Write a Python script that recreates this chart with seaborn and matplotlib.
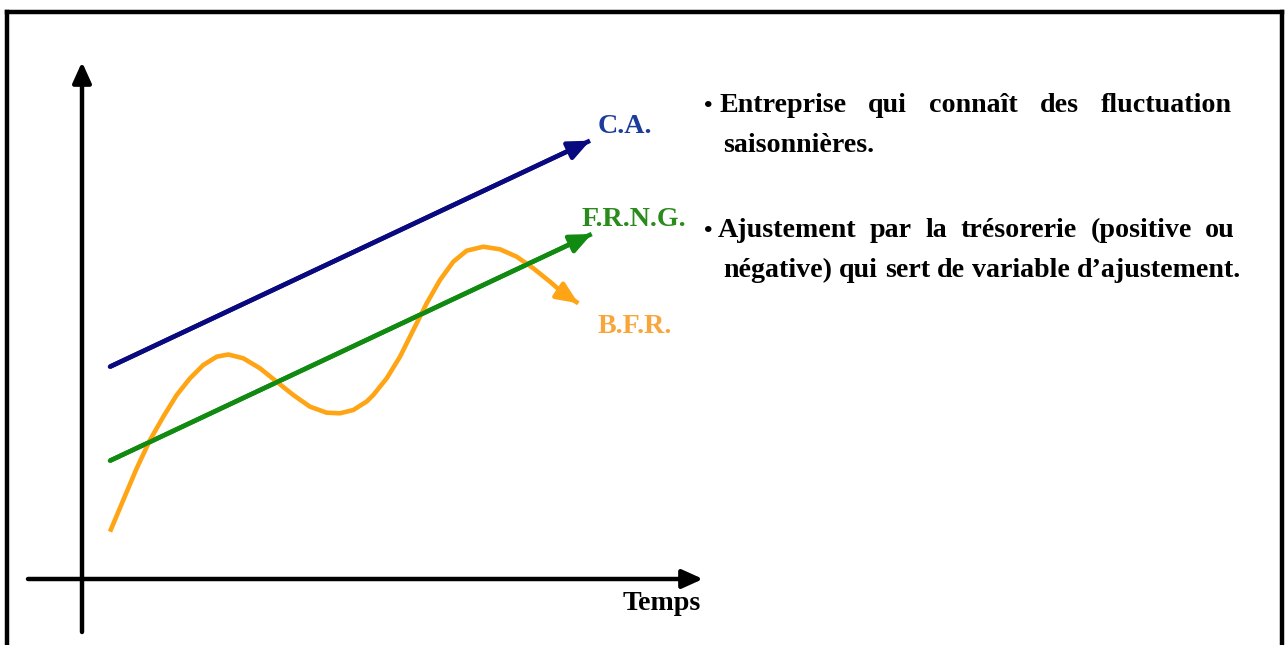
import matplotlib
matplotlib.use("Agg")
import matplotlib.pyplot as plt
import seaborn as sns
from matplotlib.lines import Line2D

# ---------------- data (chart units: time along x, value along y) ----------------
ca_t = [2.80, 50.80]
ca_v = [21.23, 43.83]

frng_t = [2.80, 50.97]
frng_v = [11.83, 34.50]

bfr_t = [2.80, 4.13, 5.47, 6.80, 8.13, 9.47, 10.80, 12.13, 13.47, 14.63, 16.13,
         17.80, 19.47, 21.13, 22.80, 24.47, 25.80, 27.13, 28.47, 29.13, 30.47,
         31.80, 33.13, 34.47, 35.80, 37.13, 38.47, 40.13, 41.80, 43.47, 45.13,
         46.80, 48.13, 49.63]
bfr_v = [4.73, 7.90, 11.07, 13.90, 16.23, 18.40, 20.07, 21.40, 22.23, 22.45, 22.07,
         21.07, 19.73, 18.40, 17.23, 16.63, 16.57, 16.90, 17.75, 18.40, 20.07,
         22.23, 24.90, 27.57, 29.90, 31.73, 32.83, 33.23, 32.97, 32.23, 31.07,
         29.73, 28.57, 27.57]

series_labels = ["C.A.", "F.R.N.G.", "B.F.R."]
x_axis_label = "Temps"
bullet_1 = ["Entreprise", "qui", "connaît", "des", "fluctuation"]
bullet_1b = ["saisonnières."]
bullet_2 = ["Ajustement", "par", "la", "trésorerie", "(positive", "ou"]
bullet_2b = ["négative)", "qui", "sert", "de", "variable", "d’ajustement."]

# ---------------- style ----------------
sns.set_style("white")
plt.rcParams["font.family"] = ["Liberation Serif", "DejaVu Serif"]
plt.rcParams["font.weight"] = "bold"

NAVY = "#0a0a80"
GREEN = "#108a10"
ORANGE = "#ffa515"
CA_TXT = "#1c3c9c"
FR_TXT = "#2a8a1c"
BF_TXT = "#f8a53a"
FS = 20.2

fig = plt.figure(figsize=(12.85, 6.45), dpi=100)
fig.patch.set_facecolor("white")
ax = fig.add_axes([0, 0, 1, 1])
ax.set_xlim(-8.2, 120.3)
ax.set_ylim(-6.6, 57.9)
ax.axis("off")


def X(px):
    return px / 10 - 8.2


def Y(py):
    return (579 - py) / 10


# ---------------- frame (top, left, right) ----------------
fw = 3.2
fig.add_artist(Line2D([6.5 / 1285, 1281.5 / 1285], [1 - 11.5 / 645] * 2,
                      transform=fig.transFigure, color="black", lw=fw,
                      solid_capstyle="projecting"))
fig.add_artist(Line2D([6.5 / 1285] * 2, [1 - 11.5 / 645, -0.05],
                      transform=fig.transFigure, color="black", lw=fw,
                      solid_capstyle="projecting"))
fig.add_artist(Line2D([1281.5 / 1285] * 2, [1 - 11.5 / 645, -0.05],
                      transform=fig.transFigure, color="black", lw=fw,
                      solid_capstyle="projecting"))

# ---------------- axes arrows ----------------
axis_arrow = dict(arrowstyle="-|>,head_length=0.62,head_width=0.28", color="black",
                  lw=3.2, shrinkA=0, shrinkB=0, mutation_scale=20)
ax.annotate("", xy=(0, Y(62)), xytext=(0, Y(632)), arrowprops=axis_arrow)
ax.annotate("", xy=(X(703), 0), xytext=(X(28), 0), arrowprops=axis_arrow)

# ---------------- series ----------------
for t, v, col in [(ca_t, ca_v, NAVY), (frng_t, frng_v, GREEN), (bfr_t, bfr_v, ORANGE)]:
    sns.lineplot(x=t, y=v, ax=ax, color=col, lw=3.3, estimator=None, sort=False,
                 solid_capstyle="butt", solid_joinstyle="round")
    ax.annotate("", xy=(t[-1], v[-1]), xytext=(t[-2], v[-2]),
                arrowprops=dict(arrowstyle="-|>,head_length=0.64,head_width=0.28",
                                color=col, lw=3.3, shrinkA=0, shrinkB=0,
                                mutation_scale=20))

# ---------------- labels ----------------
ax.text(X(598), Y(133), series_labels[0], color=CA_TXT, fontsize=FS,
        fontweight="bold", ha="left", va="baseline")
ax.text(X(582), Y(226), series_labels[1], color=FR_TXT, fontsize=FS,
        fontweight="bold", ha="left", va="baseline")
ax.text(X(598), Y(333), series_labels[2], color=BF_TXT, fontsize=FS,
        fontweight="bold", ha="left", va="baseline")
ax.text(X(623), Y(610), x_axis_label, color="black", fontsize=FS,
        fontweight="bold", ha="left", va="baseline")

# ---------------- bullet text (justified) ----------------
fig.canvas.draw()
renderer = fig.canvas.get_renderer()


def width_of(s):
    t = ax.text(0, 0, s, fontsize=FS, fontweight="bold")
    w = t.get_window_extent(renderer).width
    t.remove()
    return w


space_w = width_of("a a") - width_of("aa")


def place(words, left_px, base_py, right_px=None):
    texts = [ax.text(0, Y(base_py), w, fontsize=FS, fontweight="bold", color="black",
                     ha="left", va="baseline") for w in words]
    widths = [t.get_window_extent(renderer).width for t in texts]
    if right_px is None or len(words) < 2:
        gap = space_w
    else:
        gap = (right_px - left_px - sum(widths)) / (len(words) - 1)
    x = left_px
    for t, w in zip(texts, widths):
        t.set_x(X(x))
        x += w + gap
    return x - gap


ax.text(X(704), Y(112), "•", fontsize=FS * 0.85, fontweight="bold", color="black",
        ha="left", va="baseline")
place(bullet_1, 719, 112, 1232)
place(bullet_1b, 723, 152)
ax.text(X(704), Y(237), "•", fontsize=FS * 0.85, fontweight="bold", color="black",
        ha="left", va="baseline")
place(bullet_2, 718, 237, 1235)
place(bullet_2b, 723, 277)

fig.savefig("out.png", dpi=100, facecolor="white")
